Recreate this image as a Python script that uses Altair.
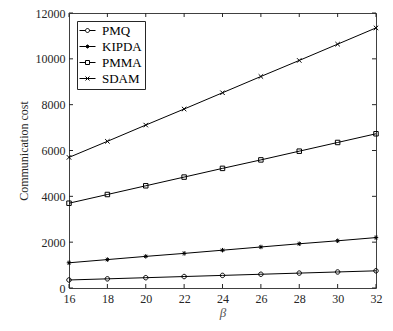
import altair as alt
import pandas as pd

beta = [16, 18, 20, 22, 24, 26, 28, 30, 32]
pmq = [350, 400, 450, 500, 550, 600, 650, 700, 750]
kipda = [1100, 1240, 1380, 1510, 1650, 1790, 1930, 2060, 2200]
pmma = [3700, 4080, 4460, 4840, 5220, 5590, 5970, 6350, 6730]
sdam = [5700, 6400, 7110, 7810, 8520, 9230, 9930, 10640, 11350]
series = ["PMQ", "KIPDA", "PMMA", "SDAM"]
x_ticks = [16, 18, 20, 22, 24, 26, 28, 30, 32]
y_ticks = [0, 2000, 4000, 6000, 8000, 10000, 12000]

values = {"PMQ": pmq, "KIPDA": kipda, "PMMA": pmma, "SDAM": sdam}
rows = []
for s in series:
    for b, c in zip(beta, values[s]):
        rows.append({"beta": b, "cost": c, "series": s})
df = pd.DataFrame(rows)
xt_df = pd.DataFrame({"v": x_ticks})
yt_df = pd.DataFrame({"v": y_ticks})

circle = "M1,0A1,1,0,1,1,-1,0A1,1,0,1,1,1,0Z"
aster = "M-1,0L1,0M0,-1L0,1M-0.7,-0.7L0.7,0.7M-0.7,0.7L0.7,-0.7"
square = "M-1,-1L1,-1L1,1L-1,1Z"
xcross = "M-1,-1L1,1M-1,1L1,-1"
marker_paths = [circle, aster, square, xcross]
legend_paths = [
    "M-4,0L-1,0M1,0L4,0" + circle,
    "M-4,0L4,0" + aster,
    "M-4,0L-1,0M1,0L4,0" + square,
    "M-4,0L4,0" + xcross,
]

W, H = 307, 275
FONT = "Liberation Serif"
TXT = "#262626"

xs = alt.Scale(domain=[16, 32], nice=False, zero=False)
ys = alt.Scale(domain=[0, 12000], nice=False)

x_axis = alt.Axis(values=x_ticks, title="β", grid=False, domain=False, ticks=False,
                  labelFlush=False, format="d",
                  labelFont=FONT, labelFontSize=12, labelColor=TXT, labelPadding=5,
                  titleFont=FONT, titleFontSize=13, titleFontStyle="italic",
                  titleFontWeight="normal", titleColor="#555555", titlePadding=2)
y_axis = alt.Axis(values=y_ticks, title="Communication cost", grid=False, domain=False,
                  ticks=False, labelFlush=False, format="d",
                  labelFont=FONT, labelFontSize=12, labelColor=TXT,
                  labelPadding=4, titleFont=FONT, titleFontSize=12,
                  titleFontWeight="normal", titleColor=TXT, titlePadding=5)

X = alt.X("beta:Q", scale=xs, axis=x_axis)
Y = alt.Y("cost:Q", scale=ys, axis=y_axis)

base = alt.Chart(df)
lines = base.mark_line(color="black", strokeWidth=1).encode(
    x=X, y=Y, detail="series:N")
points = base.mark_point(filled=False, color="black", strokeWidth=1, size=20, opacity=1).encode(
    x=X, y=Y,
    shape=alt.Shape("series:N", scale=alt.Scale(domain=series, range=marker_paths), legend=None))
legend_layer = base.transform_filter("false").mark_point(
    filled=False, color="black", strokeWidth=1, size=16, opacity=1).encode(
    x=X, y=Y,
    shape=alt.Shape("series:N", scale=alt.Scale(domain=series, range=legend_paths),
                    legend=alt.Legend(title=None, orient="top-left", offset=8, padding=3,
                                      strokeColor=TXT, fillColor="white",
                                      labelFont=FONT, labelFontSize=13, labelColor="black",
                                      symbolSize=16, symbolOffset=1, labelOffset=8,
                                      rowPadding=2,
                                      symbolStrokeColor="black", symbolStrokeWidth=1)))

XT = alt.X("v:Q", scale=xs, axis=x_axis)
YT = alt.Y("v:Q", scale=ys, axis=y_axis)
tick_bottom = alt.Chart(xt_df).mark_rule(color=TXT, strokeWidth=1).encode(
    x=XT, y=alt.value(H), y2=alt.value(H - 4))
tick_top = alt.Chart(xt_df).mark_rule(color=TXT, strokeWidth=1).encode(
    x=XT, y=alt.value(0), y2=alt.value(4))
tick_left = alt.Chart(yt_df).mark_rule(color=TXT, strokeWidth=1).encode(
    y=YT, x=alt.value(0), x2=alt.value(4))
tick_right = alt.Chart(yt_df).mark_rule(color=TXT, strokeWidth=1).encode(
    y=YT, x=alt.value(W), x2=alt.value(W - 4))

chart = alt.layer(
    lines, points, tick_bottom, tick_top, tick_left, tick_right, legend_layer
).resolve_scale(shape="independent").properties(
    width=W, height=H,
    padding={"left": 61, "top": 5, "right": 8, "bottom": 35},
    autosize=alt.AutoSizeParams(type="none"),
    background="white",
).configure_view(stroke="#404040", strokeWidth=1)

chart.save("out.html", embed_options={"renderer": "svg", "actions": False})
